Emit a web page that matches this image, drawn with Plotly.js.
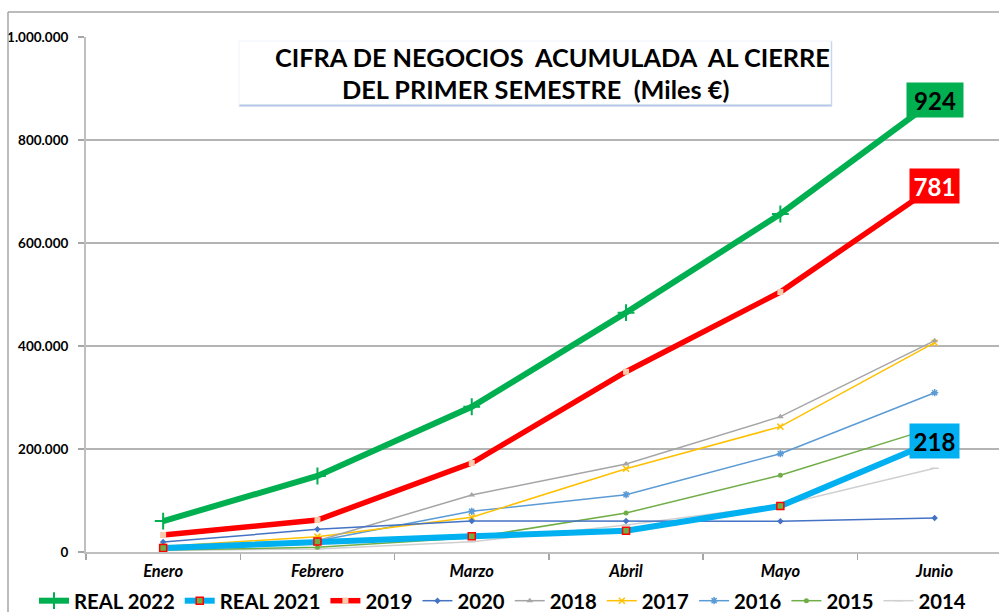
<!DOCTYPE html>
<html>
<head>
<meta charset="utf-8">
<script src="https://cdn.plot.ly/plotly-3.0.1.min.js"></script>
<style>html,body{margin:0;padding:0;background:#fff;}#chart{width:999px;height:612px;}</style>
</head>
<body>
<div id="chart"></div>
<script>
// ---- data (Miles €) ----
const months = ['Enero', 'Febrero', 'Marzo', 'Abril', 'Mayo', 'Junio'];
const real2022 = [60000, 147600, 282000, 464700, 656300, 877700];
const real2021 = [8000, 20500, 30400, 41400, 89300, 215500];
const y2019 = [33000, 62000, 172800, 350000, 504800, 710700];
const y2020 = [19400, 44000, 60200, 60200, 59600, 66000];
const y2018 = [8000, 22000, 110700, 170900, 262800, 410300];
const y2017 = [10500, 29800, 67400, 161800, 243400, 406400];
const y2016 = [6000, 21500, 79000, 111300, 190900, 309300];
const y2015 = [4000, 9000, 27800, 75700, 148900, 242000];
const y2014 = [3000, 6000, 20000, 52400, 91000, 162500];
const endLabels = ['924', '781', '218'];
const titleLine1 = 'CIFRA DE NEGOCIOS\u00A0\u00A0ACUMULADA\u00A0\u00A0AL CIERRE';
const titleLine2 = 'DEL PRIMER SEMESTRE\u00A0\u00A0(Miles €)';

function tr(name, y, color, width, marker, rank) {
  return {
    type: 'scatter', mode: 'lines+markers', name: name, x: months, y: y,
    line: {color: color, width: width}, marker: marker, legendrank: rank,
    hoverinfo: 'skip'
  };
}

const data = [
  tr('2014', y2014, '#D0D0D0', 1.5, {symbol: 'line-ew', size: 6, line: {color: '#D0D0D0', width: 1.5}}, 9),
  tr('2015', y2015, '#70AD47', 1.5, {symbol: 'circle', size: 5, color: '#70AD47'}, 8),
  tr('2016', y2016, '#5B9BD5', 1.5, {symbol: 'asterisk', size: 6, line: {color: '#5B9BD5', width: 1.5}}, 7),
  tr('2017', y2017, '#FFC000', 1.5, {symbol: 'x-thin', size: 6, line: {color: '#FFC000', width: 1.5}}, 6),
  tr('2018', y2018, '#A5A5A5', 1.5, {symbol: 'triangle-up', size: 6, color: '#A5A5A5'}, 5),
  tr('2020', y2020, '#4472C4', 1.5, {symbol: 'diamond', size: 5, color: '#4472C4'}, 4),
  tr('REAL 2021', real2021, '#00B0F0', 6, {symbol: 'square', size: 7, color: '#70AD47', line: {color: '#FF0000', width: 1.5}}, 2),
  tr('2019', y2019, '#FF0000', 5.5, {symbol: 'square', size: 6, color: '#F8CBAD'}, 3),
  tr('REAL 2022', real2022, '#00B050', 6, {symbol: 'cross-thin', size: 12, line: {color: '#00B050', width: 2}}, 1)
];

const L = 86, T = 37, B = 552, W = 999;
const pw = W - L, ph = B - T;
function px(x) { return (x - L) / pw; }
function py(y) { return (B - y) / ph; }

const layout = {
  width: 999, height: 612,
  margin: {l: L, r: 0, t: T, b: 612 - B, pad: 0, autoexpand: false},
  paper_bgcolor: '#FFFFFF', plot_bgcolor: '#FFFFFF',
  separators: ',.',
  showlegend: true,
  font: {family: 'Lato, Carlito, sans-serif', color: '#000'},
  xaxis: {
    type: 'category', range: [-0.5, -0.5 + pw / 154.3],
    showgrid: false, zeroline: false,
    showline: true, linecolor: '#BFBFBF', linewidth: 2,
    ticks: 'outside', tickson: 'boundaries', ticklen: 6, tickcolor: '#A6A6A6', tickwidth: 1.5,
    tickfont: {family: 'Lato, sans-serif', size: 16.5, weight: 'bold', style: 'italic', color: '#000'},
    ticklabelstandoff: 3,
    fixedrange: true
  },
  yaxis: {
    range: [0, 1000000], dtick: 200000, tickformat: ',d',
    showgrid: true, gridcolor: '#B4B4B4', gridwidth: 1.5,
    zeroline: false, showline: true, linecolor: '#BFBFBF', linewidth: 2,
    ticks: 'outside', ticklen: 6, tickcolor: '#A6A6A6', tickwidth: 1.5,
    tickfont: {family: 'Lato, sans-serif', size: 13.5, weight: 'bold', color: '#000'},
    ticklabelstandoff: 7,
    fixedrange: true
  },
  legend: {
    orientation: 'h', x: px(34), xanchor: 'left', y: py(601), yanchor: 'middle',
    font: {family: 'Lato, sans-serif', size: 20.3, weight: 'bold', color: '#000'},
    itemwidth: 30, tracegroupgap: 0, bgcolor: 'rgba(0,0,0,0)'
  },
  shapes: [
    // outer chart border
    {type: 'line', xref: 'paper', yref: 'paper', x0: px(8), x1: px(8), y0: py(612), y1: py(12), line: {color: '#A6A6A6', width: 1.5}},
    {type: 'line', xref: 'paper', yref: 'paper', x0: px(8), x1: px(999), y0: py(12), y1: py(12), line: {color: '#A6A6A6', width: 1.5}},
    // title box
    {type: 'rect', xref: 'paper', yref: 'paper', x0: px(239), x1: px(832), y0: py(106), y1: py(41), fillcolor: '#FFFFFF', line: {width: 0}, layer: 'above'},
    {type: 'line', xref: 'paper', yref: 'paper', x0: px(239), x1: px(832), y0: py(105.5), y1: py(105.5), line: {color: '#B4C6E7', width: 2}, layer: 'above'},
    {type: 'line', xref: 'paper', yref: 'paper', x0: px(831.5), x1: px(831.5), y0: py(106), y1: py(41), line: {color: '#C9D6EE', width: 1.5}, layer: 'above'},
    {type: 'line', xref: 'paper', yref: 'paper', x0: px(239), x1: px(832), y0: py(41), y1: py(41), line: {color: '#EEF2FA', width: 1}, layer: 'above'},
    {type: 'line', xref: 'paper', yref: 'paper', x0: px(239), x1: px(239), y0: py(106), y1: py(41), line: {color: '#EEF2FA', width: 1}, layer: 'above'}
  ],
  annotations: [
    {xref: 'paper', yref: 'paper', x: px(552), y: py(57), xanchor: 'center', yanchor: 'middle', showarrow: false,
     text: titleLine1, font: {family: 'Lato, sans-serif', size: 25.3, weight: 'bold', color: '#000'}},
    {xref: 'paper', yref: 'paper', x: px(535), y: py(89), xanchor: 'center', yanchor: 'middle', showarrow: false,
     text: titleLine2, font: {family: 'Lato, sans-serif', size: 25.3, weight: 'bold', color: '#000'}},
    {x: months[5], y: real2022[5], xref: 'x', yref: 'y', showarrow: false, text: endLabels[0],
     bgcolor: '#00B050', width: 56, height: 34, borderpad: 0,
     font: {family: 'Lato, sans-serif', size: 24, weight: 'bold', color: '#000'}},
    {x: months[5], y: y2019[5], xref: 'x', yref: 'y', showarrow: false, text: endLabels[1],
     bgcolor: '#FF0000', width: 49, height: 34, borderpad: 0,
     font: {family: 'Lato, sans-serif', size: 24, weight: 'bold', color: '#FFFFFF'}},
    {x: months[5], y: real2021[5], xref: 'x', yref: 'y', showarrow: false, text: endLabels[2],
     bgcolor: '#00B0F0', width: 49, height: 34, borderpad: 0,
     font: {family: 'Lato, sans-serif', size: 24, weight: 'bold', color: '#000'}}
  ]
};

Plotly.newPlot('chart', data, layout, {displayModeBar: false, staticPlot: true});
</script>
</body>
</html>
